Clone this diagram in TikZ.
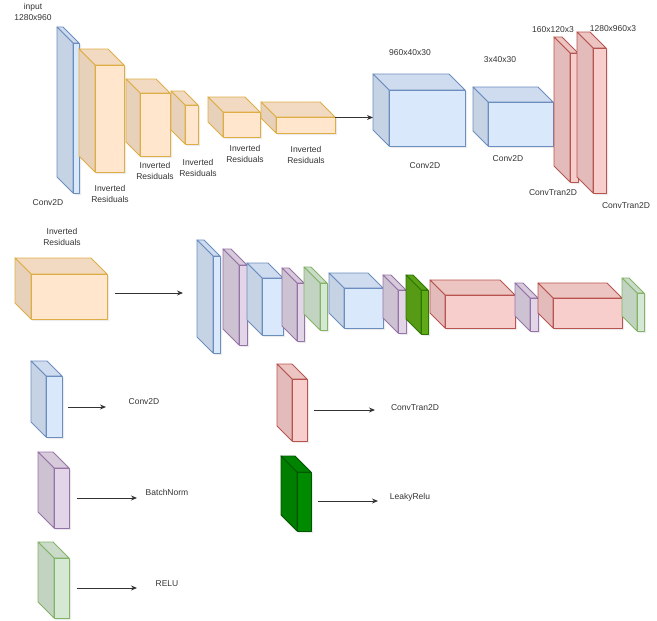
\documentclass[tikz,border=0pt]{standalone}
\usepackage{fontspec}
\setmainfont{Liberation Sans}
\usetikzlibrary{arrows.meta}
\definecolor{bluef}{HTML}{DAE8FC}\definecolor{blues}{HTML}{6C8EBF}
\definecolor{orf}{HTML}{FFE6CC}\definecolor{ors}{HTML}{DDAE45}
\definecolor{redf}{HTML}{F8CECC}\definecolor{reds}{HTML}{B85450}
\definecolor{purf}{HTML}{E1D5E7}\definecolor{purs}{HTML}{9673A6}
\definecolor{grnf}{HTML}{D5E8D4}\definecolor{grns}{HTML}{82B366}
\definecolor{lgf}{HTML}{60A917}\definecolor{lgs}{HTML}{2D7600}
\definecolor{dgf}{HTML}{008A00}\definecolor{dgs}{HTML}{005700}
\definecolor{txt}{HTML}{333333}
\tikzset{
  cubeline/.style={line width=0.9pt, line join=round},
  lbl/.style={font=\fontsize{8.5}{11}\selectfont, text=txt, align=center, inner sep=0pt},
  arr/.style={draw=txt, line width=0.9pt, -{Stealth[length=6pt,width=5pt]}},
}
% #1 name, #2 x, #3 y, #4 w, #5 h, #6 depth, #7 fill, #8 stroke
\newcommand\cubebox[8]{%
  \node[inner sep=0pt, outer sep=0pt, minimum width=#4pt, minimum height=#5pt, anchor=north west] (#1) at (#2,#3) {};
  \pgfmathsetmacro\cxa{#2+#6}\pgfmathsetmacro\cxb{#2+#4-#6}\pgfmathsetmacro\cxc{#2+#4}%
  \pgfmathsetmacro\cya{#3+#6}\pgfmathsetmacro\cyb{#3+#5-#6}\pgfmathsetmacro\cyc{#3+#5}%
  \fill[black, opacity=0.08, shift={(2,2)}] (#2,#3) -- (\cxb,#3) -- (\cxc,\cya) -- (\cxc,\cyc) -- (\cxa,\cyc) -- (#2,\cyb) -- cycle;
  \filldraw[cubeline, fill=#7!95!black, draw=#8] (#2,#3) -- (\cxb,#3) -- (\cxc,\cya) -- (\cxa,\cya) -- cycle;
  \filldraw[cubeline, fill=#7!91!black, draw=#8] (#2,#3) -- (\cxa,\cya) -- (\cxa,\cyc) -- (#2,\cyb) -- cycle;
  \filldraw[cubeline, fill=#7, draw=#8] (\cxa,\cya) rectangle (\cxc,\cyc);
}
\begin{document}
\begin{tikzpicture}[x=1pt,y=-1pt]
\useasboundingbox (0,0) rectangle (657,621);
% ---------- top row ----------
\node[lbl] (tin) at (33,12) {input\\1280x960};
\cubebox{c0}{57}{27}{22}{166}{16}{bluef}{blues}
\node[lbl] (tc0) at (48,203) {Conv2D};
\cubebox{o1}{79}{49}{45}{123}{16}{orf}{ors}
\node[lbl] (to1) at (110,193.5) {Inverted\\Residuals};
\cubebox{o2}{126}{79}{44}{77}{14}{orf}{ors}
\node[lbl] (to2) at (155,171) {Inverted\\Residuals};
\cubebox{o3}{171}{91}{27}{53}{14}{orf}{ors}
\node[lbl] (to3) at (198,167.5) {Inverted\\Residuals};
\cubebox{o4}{208}{97}{52}{40}{15}{orf}{ors}
\node[lbl] (to4) at (245,154) {Inverted\\Residuals};
\cubebox{o5}{261}{102}{74}{31}{15}{orf}{ors}
\node[lbl] (to5) at (306,155) {Inverted\\Residuals};
\cubebox{bA}{373}{74}{92}{72}{16}{bluef}{blues}
\node[lbl] (tbA1) at (410,53) {960x40x30};
\node[lbl] (tbA2) at (425,166) {Conv2D};
\cubebox{bB}{473}{87}{80}{59}{15}{bluef}{blues}
\node[lbl] (tbB1) at (500,60) {3x40x30};
\node[lbl] (tbB2) at (508,159) {Conv2D};
\cubebox{r1}{554}{37}{24}{145}{16}{redf}{reds}
\node[lbl] (tr1a) at (553,30) {160x120x3};
\node[lbl] (tr1b) at (553,193) {ConvTran2D};
\cubebox{r2}{577}{32}{29}{161}{16}{redf}{reds}
\node[lbl] (tr2a) at (613,29) {1280x960x3};
\node[lbl] (tr2b) at (626,206) {ConvTran2D};
\draw[arr] (o5.east) -- (o5.east -| bA.west);
% ---------- middle row ----------
\node[lbl] (tirm) at (62,237) {Inverted\\Residuals};
\cubebox{om}{15}{258}{92}{61}{16}{orf}{ors}
\coordinate (ma) at (115,293);
\coordinate (mb) at (183,293);
\draw[arr] (ma) -- (mb);
\cubebox{m1}{197}{240}{23}{113}{16}{bluef}{blues}
\cubebox{m2}{223}{249}{24}{96}{16}{purf}{purs}
\cubebox{m3}{247}{263}{36}{72}{15}{bluef}{blues}
\cubebox{m4}{282}{268}{22}{73}{15}{purf}{purs}
\cubebox{m5}{304}{267}{23}{63}{16}{grnf}{grns}
\cubebox{m6}{329}{273}{54}{55}{15}{bluef}{blues}
\cubebox{m7}{383}{275}{23}{58}{15}{purf}{purs}
\cubebox{m8}{406}{275}{22}{59}{15}{lgf}{lgs}
\cubebox{m9}{430}{280}{85}{48}{15}{redf}{reds}
\cubebox{m10}{515}{283}{23}{48}{15}{purf}{purs}
\cubebox{m11}{538}{283}{84}{45}{15}{redf}{reds}
\cubebox{m12}{622}{278}{22}{53}{15}{grnf}{grns}
% ---------- legend ----------
\cubebox{l1}{31}{361}{31}{76}{15}{bluef}{blues}
\coordinate (l1a) at (68,407); \coordinate (l1b) at (106,407);
\draw[arr] (l1a) -- (l1b);
\node[lbl] (tl1) at (144,402) {Conv2D};
\cubebox{l2}{38}{452}{31}{76}{16}{purf}{purs}
\coordinate (l2a) at (77,498); \coordinate (l2b) at (137,498);
\draw[arr] (l2a) -- (l2b);
\node[lbl] (tl2) at (167,492) {BatchNorm};
\cubebox{l3}{38}{542}{31}{76}{16}{grnf}{grns}
\coordinate (l3a) at (77,588); \coordinate (l3b) at (137,588);
\draw[arr] (l3a) -- (l3b);
\node[lbl] (tl3) at (167,584) {RELU};
\cubebox{l4}{277}{364}{30}{77}{15}{redf}{reds}
\coordinate (l4a) at (314,410); \coordinate (l4b) at (375,410);
\draw[arr] (l4a) -- (l4b);
\node[lbl] (tl4) at (415,408) {ConvTran2D};
\cubebox{l5}{281}{456}{30}{75}{16}{dgf}{dgs}
\coordinate (l5a) at (318,501); \coordinate (l5b) at (378,501);
\draw[arr] (l5a) -- (l5b);
\node[lbl] (tl5) at (410,497) {LeakyRelu};
\end{tikzpicture}
\end{document}
